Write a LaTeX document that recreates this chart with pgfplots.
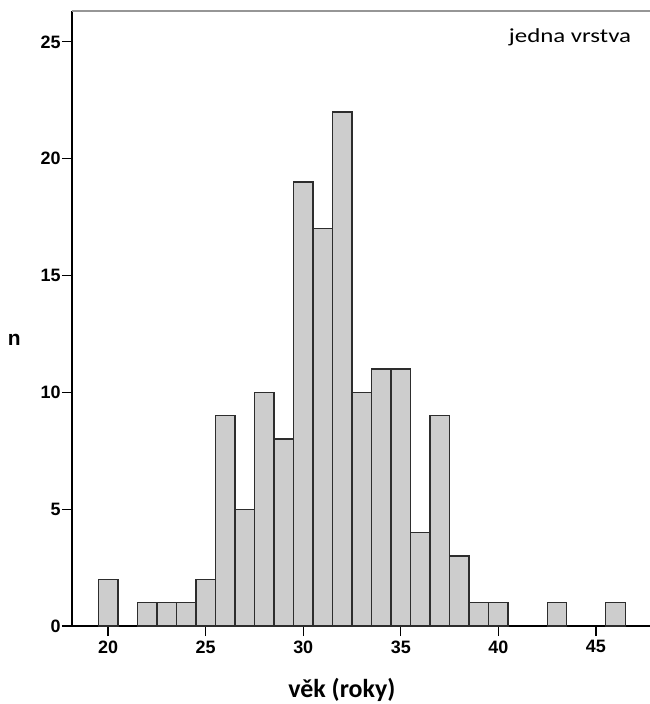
\documentclass[border=0pt]{standalone}
\usepackage{fontspec}
\setmainfont{Liberation Sans}
\newfontfamily\calfont{Carlito}
\newfontfamily\calwide[FakeStretch=1.25]{Carlito}
\usepackage{pgfplots}
\pgfplotsset{compat=1.18}
\definecolor{barfill}{RGB}{205,205,205}
\definecolor{baredge}{RGB}{45,45,45}
\definecolor{topline}{RGB}{150,150,150}
\begin{document}
\begin{tikzpicture}
\path[use as bounding box] (-72bp,-78bp) rectangle (578bp,626bp);
\begin{axis}[
  at={(0,0)}, anchor=south west,
  scale only axis,
  width=578bp, height=615bp,
  xmin=18.15, xmax=47.77,
  ymin=0, ymax=26.32,
  axis x line=bottom, axis y line=left,
  axis line style={black, line width=1.6bp, -},
  xtick={20,25,30,35,40,45},
  ytick={0,5,10,15,20,25},
  tick align=outside,
  major tick length=10bp,
  tick style={black, line width=1.3bp},
  /pgf/number format/assume math mode=true,
  tick label style={font=\fontsize{18}{18}\selectfont\bfseries},
  xticklabel style={anchor=north, yshift=-1bp},
  yticklabel style={anchor=east, xshift=2bp},
  xlabel={\calfont\bfseries věk (roky)},
  xlabel style={font=\fontsize{26}{26}\selectfont, at={(axis description cs:0.467,-0.104)}, anchor=center},
  ylabel={\bfseries n},
  ylabel style={font=\fontsize{21}{21}\selectfont, rotate=-90, at={(axis description cs:-0.100,0.465)}, anchor=center},
  clip=false,
]
\addplot[ybar, bar width=1, bar shift=0, fill=barfill, draw=baredge, line width=1.3bp]
coordinates {
(20,2) (22,1) (23,1) (24,1) (25,2) (26,9) (27,5) (28,10) (29,8)
(30,19) (31,17) (32,22) (33,10) (34,11) (35,11) (36,4) (37,9)
(38,3) (39,1) (40,1) (43,1) (46,1)
};
\draw[topline, line width=2bp] (rel axis cs:0,1) -- (rel axis cs:1,1);
\end{axis}
\node[font=\fontsize{20}{20}\selectfont\calwide, anchor=center] at (498bp,589bp) {jedna vrstva};
\end{tikzpicture}
\end{document}
